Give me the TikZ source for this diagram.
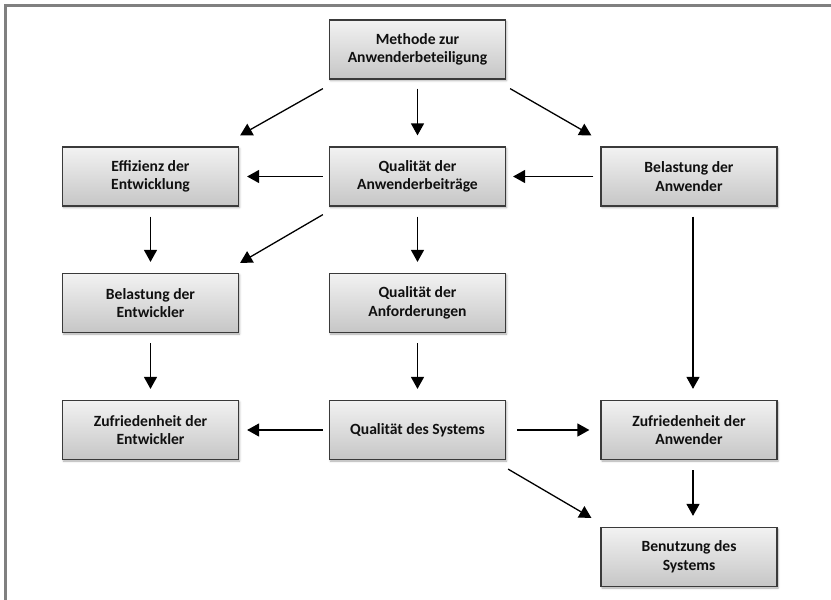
\documentclass[tikz,border=0pt]{standalone}
\usepackage{fontspec}
\setmainfont{Carlito}
\usetikzlibrary{arrows.meta,calc,shadows.blur}
\definecolor{framegray}{HTML}{808080}
\definecolor{boxedge}{HTML}{3A3A3A}
\definecolor{boxtop}{HTML}{F2F2F2}
\definecolor{boxbottom}{HTML}{C6C6C6}
\definecolor{textdark}{HTML}{101010}
\tikzset{
  factor/.style={draw=boxedge, line width=1.2pt, top color=boxtop, bottom color=boxbottom,
    minimum width=176pt, minimum height=59pt, inner sep=0pt, align=center,
    font=\fontsize{15.6}{18.6}\selectfont\bfseries, text=textdark,
    blur shadow={shadow xshift=1pt, shadow yshift=-1.5pt, shadow blur radius=2pt, shadow opacity=35}},
  link/.style={line width=1.3pt, -{Triangle[length=12pt,width=13pt]}},
}
\begin{document}
\begin{tikzpicture}[x=1pt,y=-1pt]
  \useasboundingbox (0,0) rectangle (831,600);
  % frame along the top and left edges
  \draw[framegray, line width=3pt] (5.5,600) -- (5.5,5.5) -- (831,5.5);

  % factors
  \node[factor] (m)  at (417.5,49.5)  {Methode zur\\Anwenderbeteiligung};
  \node[factor] (e)  at (150.5,176.5) {Effizienz der\\Entwicklung};
  \node[factor] (qa) at (417.5,176.5) {Qualität der\\Anwenderbeiträge};
  \node[factor] (ba) at (689,176.5)   {Belastung der\\Anwender};
  \node[factor] (be) at (150.5,303)   {Belastung der\\Entwickler};
  \node[factor] (qf) at (417.5,303)   {Qualität der\\Anforderungen};
  \node[factor] (ze) at (150.5,430)   {Zufriedenheit der\\Entwickler};
  \node[factor] (qs) at (417.5,430)   {Qualität des Systems};
  \node[factor] (za) at (689,430)     {Zufriedenheit der\\Anwender};
  \node[factor] (bs) at (689,557)     {Benutzung des\\Systems};

  % influences
  \draw[link] ($(m.south west)+(-6,9)$) -- ($(e.north east)+(1,-11)$);
  \draw[link, shorten <=9pt, shorten >=11pt] (m.south) -- (qa.north);
  \draw[link] ($(m.south east)+(4,9)$) -- ($(ba.north west)+(-9,-11)$);
  \draw[link, shorten <=6pt, shorten >=8pt] (qa.west) -- (e.east);
  \draw[link, shorten <=7pt, shorten >=7pt] (ba.west) -- (qa.east);
  \draw[link, shorten <=10pt, shorten >=11pt] (e.south) -- (be.north);
  \draw[link] ($(qa.south west)+(-6,8)$) -- ($(be.north east)+(1,-10)$);
  \draw[link, shorten <=10pt, shorten >=11pt] (qa.south) -- (qf.north);
  \draw[link] ($(ba.south)+(4,10)$) -- ($(za.north)+(4,-11)$);
  \draw[link, shorten <=10pt, shorten >=11pt] (be.south) -- (ze.north);
  \draw[link, shorten <=10pt, shorten >=11pt] (qf.south) -- (qs.north);
  \draw[link, shorten <=6pt, shorten >=8pt] (qs.west) -- (ze.east);
  \draw[link, shorten <=11pt, shorten >=11pt] (qs.east) -- (za.west);
  \draw[link] ($(qs.south east)+(2,9)$) -- ($(bs.north west)+(-9,-9)$);
  \draw[link] ($(za.south)+(4,10)$) -- ($(bs.north)+(4,-11)$);
\end{tikzpicture}
\end{document}
